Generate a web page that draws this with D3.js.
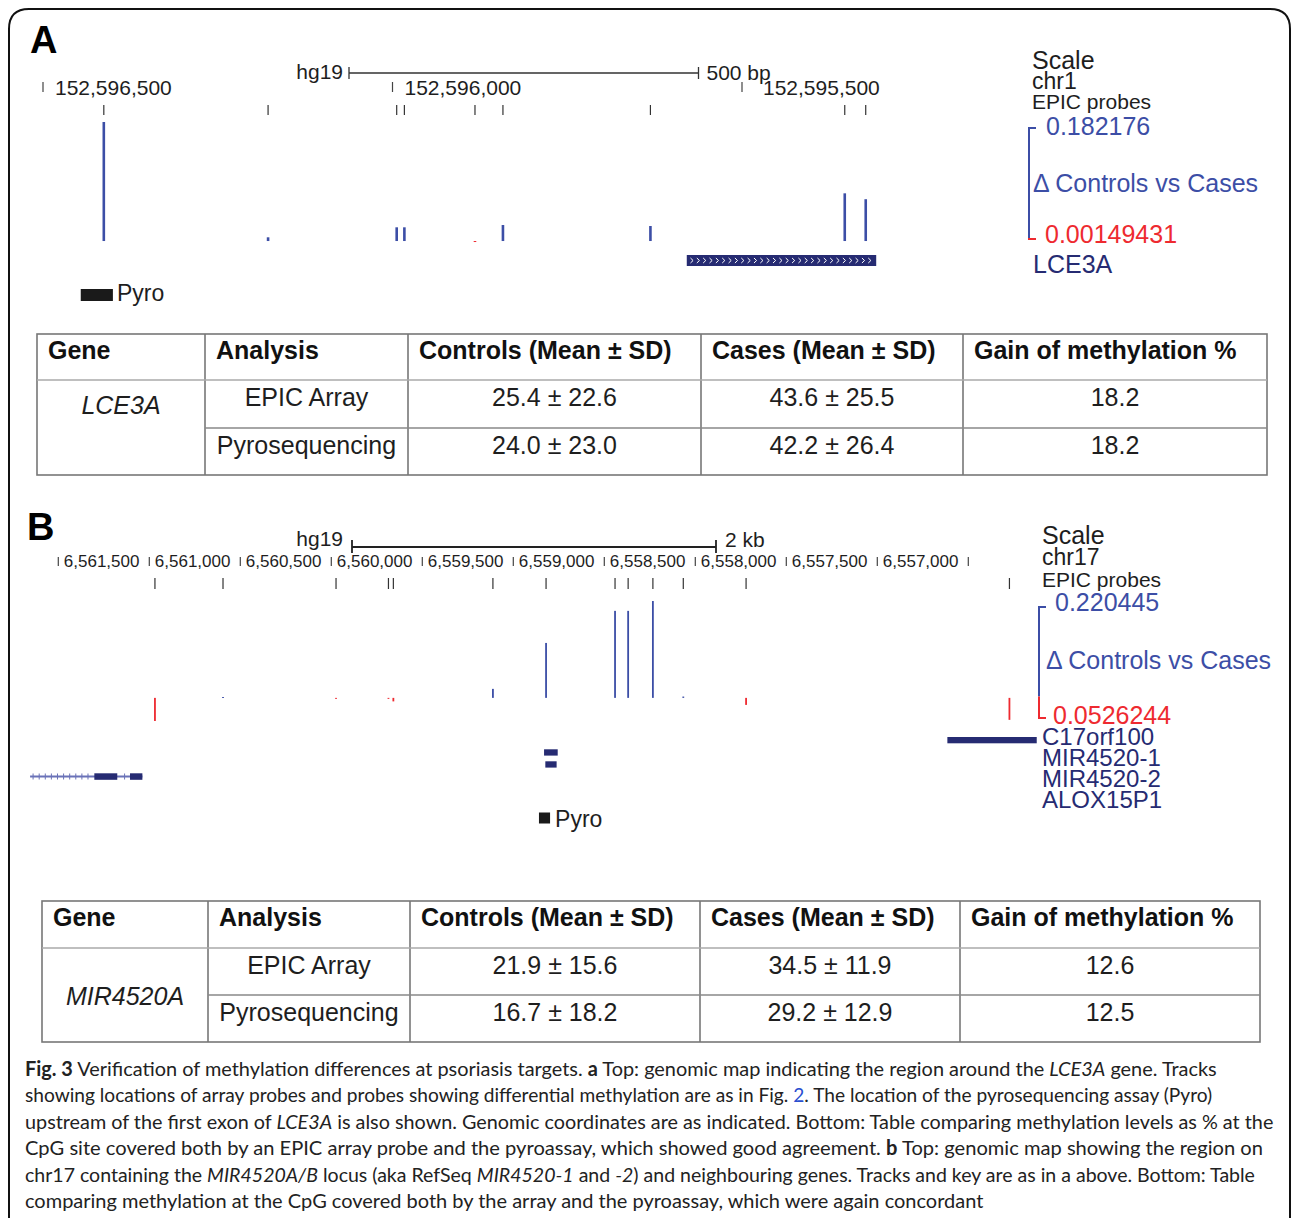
<!DOCTYPE html>
<html>
<head>
<meta charset="utf-8">
<style>
body { margin: 0; background: #fff; }
svg text { font-family: "Liberation Sans", Arial, sans-serif; }
svg .cap text { font-family: Lato, "Open Sans", sans-serif; }
</style>
</head>
<body>
<svg width="1292" height="1218"></svg>
<script src="https://cdn.jsdelivr.net/npm/d3@7/dist/d3.min.js"></script>
<script>
// ---- panel A data (chr1, LCE3A) ----
var aTicks = [152596500, 152596000, 152595500];
var aProbePos = [152596413, 152596178, 152595994, 152595983, 152595882, 152595842, 152595631, 152595353, 152595323];
var aDelta = [0.182176, 0.0057, 0.021, 0.021, -0.0012, 0.0245, 0.023, 0.073, 0.064];
var aViewRange = [-0.00149431, 0.182176];
var aGeneSpan = [152595579, 152595308];
var aPyroSpan = [152596446, 152596400];

// ---- panel B data (chr17, MIR4520A) ----
var bTicks = [6561500, 6561000, 6560500, 6560000, 6559500, 6559000, 6558500, 6558000, 6557500, 6557000, 6556500];
var bProbePos = [6560969, 6560595, 6559974, 6559686, 6559659, 6559112, 6558820, 6558441, 6558369, 6558233, 6558066, 6557721, 6556274];
var bDelta = [-0.0526, 0.002, -0.002, -0.002, -0.008, 0.0205, 0.125, 0.198, 0.198, 0.2204, 0.003, -0.016, -0.05];
var bViewRange = [-0.0526244, 0.220445];
var bLeftSpan = [6561655, 6561038];
var bLeftExons = [[6561302, 6561176], [6561106, 6561038]];
var bMirRects = [[6558831, 6558756], [6558824, 6558762]];
var bC17Span = [6556615, 6556124];
var bPyroSpan = [6558859, 6558798];
var bGeneNames = ["C17orf100", "MIR4520-1", "MIR4520-2", "ALOX15P1"];

// ---- tables ----
var tableHeader = ["Gene", "Analysis", "Controls (Mean \u00b1 SD)", "Cases (Mean \u00b1 SD)", "Gain of methylation %"];
var analyses = ["EPIC Array", "Pyrosequencing"];
var aControls = ["25.4 \u00b1 22.6", "24.0 \u00b1 23.0"];
var aCases = ["43.6 \u00b1 25.5", "42.2 \u00b1 26.4"];
var aGain = ["18.2", "18.2"];
var bControls = ["21.9 \u00b1 15.6", "16.7 \u00b1 18.2"];
var bCases = ["34.5 \u00b1 11.9", "29.2 \u00b1 12.9"];
var bGain = ["12.6", "12.5"];

// ---- caption ----
var capLines = [
  [["Fig. 3", "b"], [" Verification of methylation differences at psoriasis targets. ", ""], ["a", "b"], [" Top: genomic map indicating the region around the ", ""], ["LCE3A", "i"], [" gene. Tracks", ""]],
  [["showing locations of array probes and probes showing differential methylation are as in Fig. ", ""], ["2", "l"], [". The location of the pyrosequencing assay (Pyro)", ""]],
  [["upstream of the first exon of ", ""], ["LCE3A", "i"], [" is also shown. Genomic coordinates are as indicated. Bottom: Table comparing methylation levels as % at the", ""]],
  [["CpG site covered both by an EPIC array probe and the pyroassay, which showed good agreement. ", ""], ["b", "b"], [" Top: genomic map showing the region on", ""]],
  [["chr17 containing the ", ""], ["MIR4520A/B", "i"], [" locus (aka RefSeq ", ""], ["MIR4520-1", "i"], [" and ", ""], ["-2", "i"], [") and neighbouring genes. Tracks and key are as in a above. Bottom: Table", ""]],
  [["comparing methylation at the CpG covered both by the array and the pyroassay, which were again concordant", ""]]
];
var capEnds = [1218, 1213, 1274, 1264, 1256, 984];

var blue = "#3c4ea6", red = "#ee2a30", navy = "#262b72", lightNavy = "#6a72b8", ink = "#1e1e1e";
var svg = d3.select("svg");

svg.append("path")
    .attr("d", "M9,1240V29Q9,9 29,9H1270Q1290,9 1290,29V1240")
    .attr("fill", "none").attr("stroke", "#111").attr("stroke-width", 2);

function label(g, x, y, size, color, txt) {
  return g.append("text").attr("x", x).attr("y", y).attr("font-size", size).attr("fill", color).text(txt);
}

function bars(g, x, y, pos, vals, w) {
  g.selectAll(null).data(pos).enter().append("rect")
      .attr("x", function(d) { return x(d) - w / 2; })
      .attr("width", w)
      .attr("y", function(d, i) { return Math.min(y(vals[i]), y(0)); })
      .attr("height", function(d, i) { return Math.max(1, Math.abs(y(vals[i]) - y(0))); })
      .attr("fill", function(d, i) { return vals[i] >= 0 ? blue : red; });
}

function probeTicks(g, x, pos, y1, y2) {
  g.selectAll(null).data(pos).enter().append("line")
      .attr("x1", x).attr("x2", x).attr("y1", y1).attr("y2", y2)
      .attr("stroke", "#333").attr("stroke-width", 1.2);
}

function bracket(g, bx, y, domain) {
  var b = y.copy().range([y.range()[0] - 3, y.range()[1] + 6]);
  var top = b(domain[1]), bot = b(domain[0]), zero = b(0);
  g.append("path").attr("d", "M" + (bx + 7) + "," + top + "H" + bx + "V" + zero)
      .attr("fill", "none").attr("stroke", blue).attr("stroke-width", 2);
  g.append("path").attr("d", "M" + bx + "," + zero + "V" + bot + "H" + (bx + 7))
      .attr("fill", "none").attr("stroke", red).attr("stroke-width", 2);
}

// =================== Panel A ===================
var gA = svg.append("g");
var xA = d3.scaleLinear().domain([152596500, 152595500]).range([43, 742]);
var yA = d3.scaleLinear().domain(aViewRange).range([242, 122]);

gA.append("text").attr("x", 30).attr("y", 53).attr("font-size", 38).attr("font-weight", "bold").text("A");

// scale bar
label(gA, 343, 79, 21, ink, "hg19").attr("text-anchor", "end");
var sbA = [349, 349 + Math.abs(xA(0) - xA(500))];
gA.append("path").attr("d", "M" + sbA[0] + ",67V79M" + sbA[0] + ",73H" + sbA[1] + "M" + sbA[1] + ",67V79")
    .attr("fill", "none").attr("stroke", "#333").attr("stroke-width", 1.3);
label(gA, sbA[1] + 8, 80, 21, ink, "500 bp");

// coordinate ticks
gA.selectAll(null).data(aTicks).enter().append("line")
    .attr("x1", xA).attr("x2", xA).attr("y1", 82).attr("y2", 92)
    .attr("stroke", "#444").attr("stroke-width", 1.2);
gA.selectAll(null).data(aTicks).enter().append("text")
    .attr("x", function(d, i) { return xA(d) + (i === aTicks.length - 1 ? 21 : 12); })
    .attr("y", 95).attr("font-size", 21).attr("fill", ink)
    .text(d3.format(","));

probeTicks(gA, xA, aProbePos, 105, 115);
bars(gA, xA, yA, aProbePos, aDelta, 2.6);

// LCE3A gene
var ga0 = xA(aGeneSpan[0]), ga1 = xA(aGeneSpan[1]);
gA.append("rect").attr("x", ga0).attr("y", 255).attr("width", ga1 - ga0).attr("height", 11).attr("fill", navy);
var chev = d3.range(ga0 + 5, ga1 - 4, 6.35);
gA.selectAll(null).data(chev).enter().append("path")
    .attr("d", function(d) { return "M" + (d - 1.3) + ",258L" + (d + 1.3) + ",260.5L" + (d - 1.3) + ",263"; })
    .attr("fill", "none").attr("stroke", "#fff").attr("stroke-width", 1);

// Pyro
var pa0 = xA(aPyroSpan[0]), pa1 = xA(aPyroSpan[1]);
gA.append("rect").attr("x", pa0).attr("y", 289).attr("width", pa1 - pa0).attr("height", 12).attr("fill", "#1a1a1a");
label(gA, pa1 + 4, 301, 23, ink, "Pyro");

// right labels
label(gA, 1032, 69, 25, ink, "Scale");
label(gA, 1032, 89, 23, ink, "chr1");
label(gA, 1032, 109, 21, ink, "EPIC probes");
bracket(gA, 1029, yA, aViewRange);
label(gA, 1046, 135, 25, blue, "0.182176");
label(gA, 1033, 192, 25, blue, "\u0394 Controls vs Cases");
label(gA, 1045, 243, 25, red, "0.00149431");
label(gA, 1033, 273, 25, navy, "LCE3A");

// =================== Panel B ===================
var gB = svg.append("g");
var xB = d3.scaleLinear().domain([6561500, 6557000]).range([58.3, 877.3]);
var yB = d3.scaleLinear().domain(bViewRange).range([721, 601]);

gB.append("text").attr("x", 27).attr("y", 540).attr("font-size", 38).attr("font-weight", "bold").text("B");

label(gB, 343, 546, 21, ink, "hg19").attr("text-anchor", "end");
var sbB = [352, 352 + Math.abs(xB(0) - xB(2000))];
gB.append("path").attr("d", "M" + sbB[0] + ",540V553M" + sbB[0] + ",547H" + sbB[1] + "M" + sbB[1] + ",540V553")
    .attr("fill", "none").attr("stroke", "#222").attr("stroke-width", 1.8);
label(gB, sbB[1] + 9, 547, 21, ink, "2 kb");

gB.selectAll(null).data(bTicks).enter().append("line")
    .attr("x1", xB).attr("x2", xB).attr("y1", 557).attr("y2", 566)
    .attr("stroke", "#444").attr("stroke-width", 1.2);
gB.selectAll(null).data(bTicks.slice(0, bTicks.length - 1)).enter().append("text")
    .attr("x", function(d) { return xB(d) + 5.5; })
    .attr("y", 567).attr("font-size", 17).attr("fill", ink)
    .text(d3.format(","));

probeTicks(gB, xB, bProbePos, 578, 589);
bars(gB, xB, yB, bProbePos, bDelta, 1.8);

// left gene (thin line with intron arrows + exons)
var lg0 = xB(bLeftSpan[0]), lg1 = xB(bLeftSpan[1]);
gB.append("line").attr("x1", lg0).attr("x2", lg1).attr("y1", 776.5).attr("y2", 776.5)
    .attr("stroke", lightNavy).attr("stroke-width", 2);
var arr = d3.range(lg0 + 3, lg1 - 3, 6.1).filter(function(d) {
  return !bLeftExons.some(function(e) { return d > xB(e[0]) - 2 && d < xB(e[1]) + 2; });
});
gB.selectAll(null).data(arr).enter().append("path")
    .attr("d", function(d) { return "M" + d + ",773.5V779.5M" + (d - 1.5) + ",776.5H" + (d + 1.5); })
    .attr("fill", "none").attr("stroke", lightNavy).attr("stroke-width", 1);
gB.selectAll(null).data(bLeftExons).enter().append("rect")
    .attr("x", function(d) { return xB(d[0]); })
    .attr("width", function(d) { return xB(d[1]) - xB(d[0]); })
    .attr("y", 773.3).attr("height", 6.5).attr("fill", navy);

// MIR4520 rects
gB.selectAll(null).data(bMirRects).enter().append("rect")
    .attr("x", function(d) { return xB(d[0]); })
    .attr("width", function(d) { return xB(d[1]) - xB(d[0]); })
    .attr("y", function(d, i) { return 749.3 + i * 12; }).attr("height", 6.3).attr("fill", navy);

// C17orf100
gB.append("rect").attr("x", xB(bC17Span[0])).attr("width", xB(bC17Span[1]) - xB(bC17Span[0]))
    .attr("y", 737).attr("height", 6.3).attr("fill", navy);

// Pyro
var pb0 = xB(bPyroSpan[0]), pb1 = xB(bPyroSpan[1]);
gB.append("rect").attr("x", pb0).attr("y", 812.5).attr("width", pb1 - pb0).attr("height", 11).attr("fill", "#1a1a1a");
label(gB, pb1 + 5, 827, 23, ink, "Pyro");

label(gB, 1042, 544, 25, ink, "Scale");
label(gB, 1042, 565, 23, ink, "chr17");
label(gB, 1042, 587, 21, ink, "EPIC probes");
bracket(gB, 1039, yB, bViewRange);
label(gB, 1055, 611, 25, blue, "0.220445");
label(gB, 1046, 669, 25, blue, "\u0394 Controls vs Cases");
label(gB, 1053, 724, 25, red, "0.0526244");
gB.selectAll(null).data(bGeneNames).enter().append("text")
    .attr("x", 1042).attr("y", function(d, i) { return 745 + i * 21; })
    .attr("font-size", 24).attr("fill", navy).text(function(d) { return d; });

// =================== tables ===================
function table(cols, rows, geneY, gene, controls, cases, gain) {
  var g = svg.append("g");
  g.append("rect").attr("x", cols[0]).attr("y", rows[0])
      .attr("width", cols[5] - cols[0]).attr("height", rows[3] - rows[0])
      .attr("fill", "none").attr("stroke", "#777").attr("stroke-width", 1.6);
  g.selectAll(null).data(cols.slice(1, 5)).enter().append("line")
      .attr("x1", function(d) { return d; }).attr("x2", function(d) { return d; })
      .attr("y1", rows[0]).attr("y2", rows[3]).attr("stroke", "#777").attr("stroke-width", 1.6);
  g.append("line").attr("x1", cols[0]).attr("x2", cols[5]).attr("y1", rows[1]).attr("y2", rows[1])
      .attr("stroke", "#aaa").attr("stroke-width", 1.6);
  g.append("line").attr("x1", cols[1]).attr("x2", cols[5]).attr("y1", rows[2]).attr("y2", rows[2])
      .attr("stroke", "#888").attr("stroke-width", 1.6);
  g.selectAll(null).data(tableHeader).enter().append("text")
      .attr("x", function(d, i) { return cols[i] + 11; }).attr("y", rows[0] + 25)
      .attr("font-size", 25).attr("font-weight", "bold").attr("fill", "#111")
      .text(function(d) { return d; });
  g.append("text").attr("x", (cols[0] + cols[1]) / 2).attr("y", geneY)
      .attr("text-anchor", "middle").attr("font-size", 25).attr("font-style", "italic").attr("fill", ink).text(gene);
  var cells = [analyses, controls, cases, gain];
  cells.forEach(function(col, c) {
    g.selectAll(null).data(col).enter().append("text")
        .attr("x", (cols[c + 1] + cols[c + 2]) / 2)
        .attr("y", function(d, r) { return rows[r + 1] + 26; })
        .attr("text-anchor", "middle").attr("font-size", 25).attr("fill", ink)
        .text(function(d) { return d; });
  });
}
table([37, 205, 408, 701, 963, 1267], [334, 380, 428, 475], 414, "LCE3A", aControls, aCases, aGain);
table([42, 208, 410, 700, 960, 1260], [901, 948, 995, 1042], 1005, "MIR4520A", bControls, bCases, bGain);

// =================== caption ===================
var cap = svg.append("g").attr("class", "cap");
capLines.forEach(function(segs, i) {
  var t = cap.append("text").attr("font-size", 20).attr("fill", "#222");
  segs.forEach(function(s) {
    var ts = t.append("tspan").text(s[0]);
    if (s[1] === "b") ts.attr("font-weight", "bold");
    if (s[1] === "i") ts.attr("font-style", "italic");
    if (s[1] === "l") ts.attr("fill", "#2a4fd0");
  });
  var w = t.node().getComputedTextLength();
  var sx = (capEnds[i] - 25) / w;
  t.attr("transform", "translate(25," + (1076 + i * 26.4) + ") scale(" + sx + ",1)");
});
</script>
</body>
</html>
